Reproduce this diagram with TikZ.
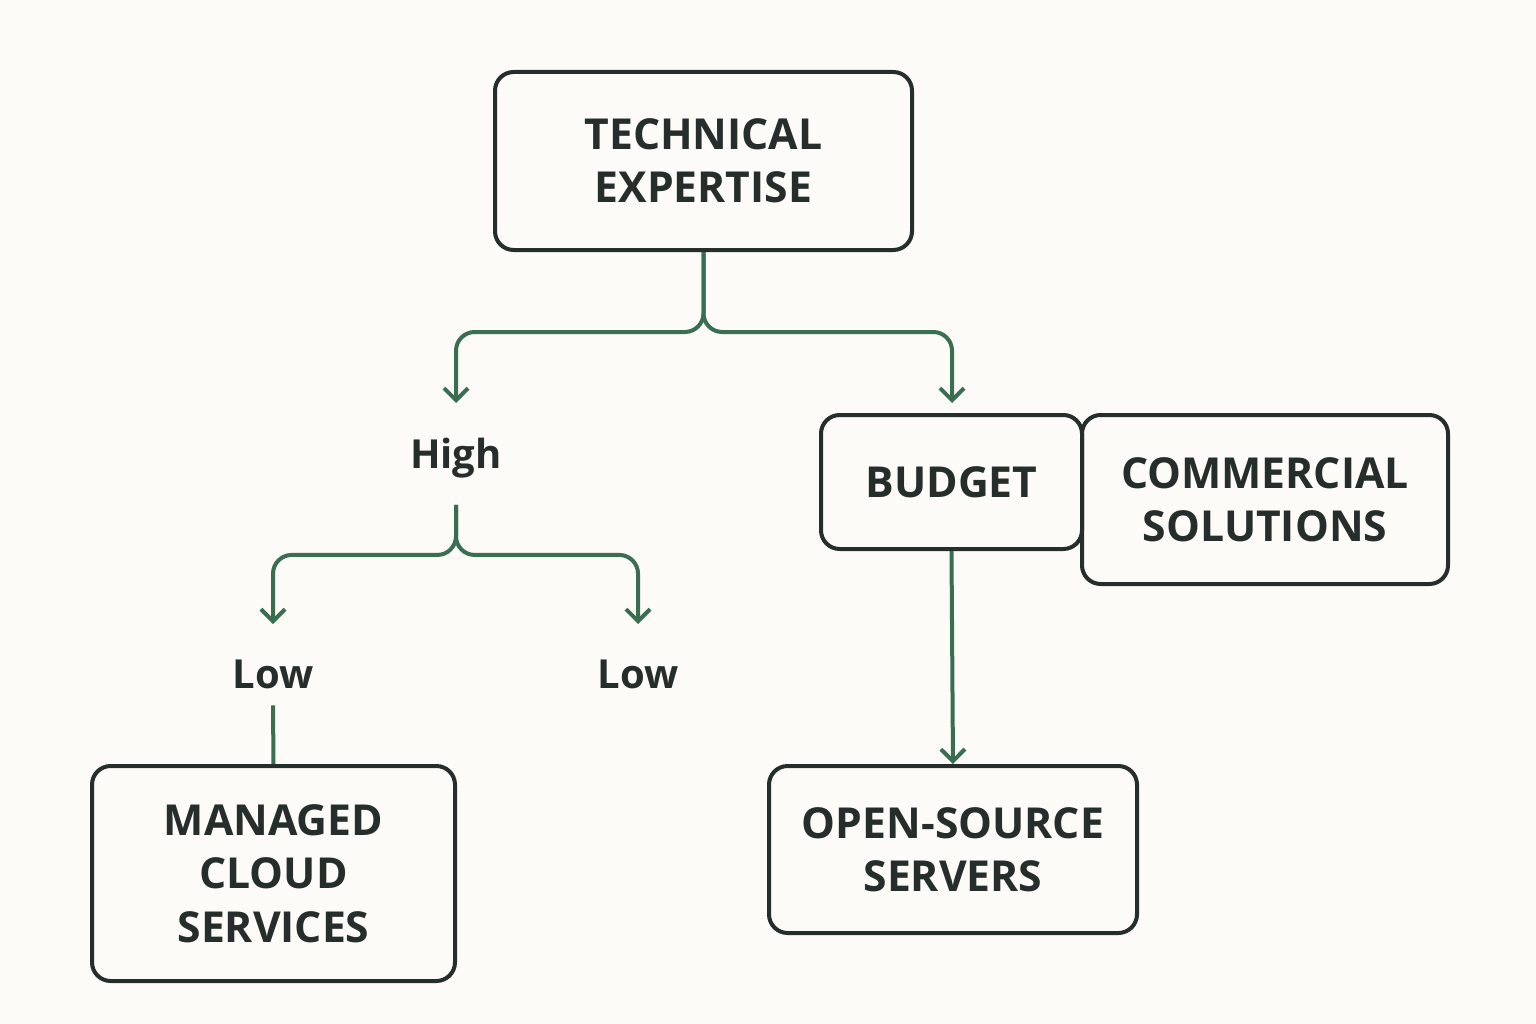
\documentclass[tikz,border=0pt]{standalone}
\usepackage{fontspec}
\setmainfont{Open Sans}
\usetikzlibrary{arrows.meta}
\definecolor{bgc}{RGB}{252,251,247}
\definecolor{ink}{RGB}{38,46,43}
\definecolor{grn}{RGB}{58,110,82}
\tikzset{every picture/.style={line width=0.75pt}}
\tikzset{
  boxnode/.style={draw=ink, line width=3pt, rounded corners=14pt, align=center, text=ink, font=\fontsize{32}{40}\selectfont\bfseries, inner sep=0pt},
  lblnode/.style={text=ink, font=\fontsize{30}{36}\selectfont\bfseries},
  flow/.style={draw=grn, line width=3pt, rounded corners=14pt},
  tip/.style={-{Straight Barb[length=9pt,width=18pt,line width=3pt]}}
}
\begin{document}
\begin{tikzpicture}[x=0.75pt,y=0.75pt,yscale=-1,xscale=1]
\fill[bgc] (0,0) rectangle (1536,1024);
\useasboundingbox (0,0) rectangle (1536,1024);

% Boxes
\node[boxnode, minimum width=417*0.75pt, minimum height=178*0.75pt] (tech) at (703.5,161) {TECHNICAL\\EXPERTISE};
\node[boxnode, minimum width=366*0.75pt, minimum height=169*0.75pt] (comm) at (1265,499.5) {COMMERCIAL\\SOLUTIONS};
\node[boxnode, minimum width=261*0.75pt, minimum height=134*0.75pt, fill=bgc] (budget) at (951.5,482) {BUDGET};
\node[boxnode, minimum width=368*0.75pt, minimum height=167*0.75pt] (open) at (953,849.5) {OPEN-SOURCE\\SERVERS};
\node[boxnode, minimum width=363*0.75pt, minimum height=215*0.75pt] (managed) at (273.5,873.5) {MANAGED\\CLOUD\\SERVICES};

% Text labels
\node[lblnode] (high) at (456,458) {High};
\node[lblnode] (lowa) at (273,674) {Low};
\node[lblnode] (lowb) at (638,674) {Low};

% Connectors
\draw[flow, tip] (tech.south) -- ++(0,80) -| (456,403);
\draw[flow, tip] (tech.south) -- ++(0,80) -| (952,403);
\draw[flow, tip] (high.south) ++(0,22) -- ++(0,50) -| (273,624);
\draw[flow, tip] (high.south) ++(0,22) -- ++(0,50) -| (638,624);
\draw[flow] (lowa.south) ++(0,12) -- (managed.north);
\draw[flow, tip] (budget.south) -- (open.north);
\end{tikzpicture}
\end{document}
